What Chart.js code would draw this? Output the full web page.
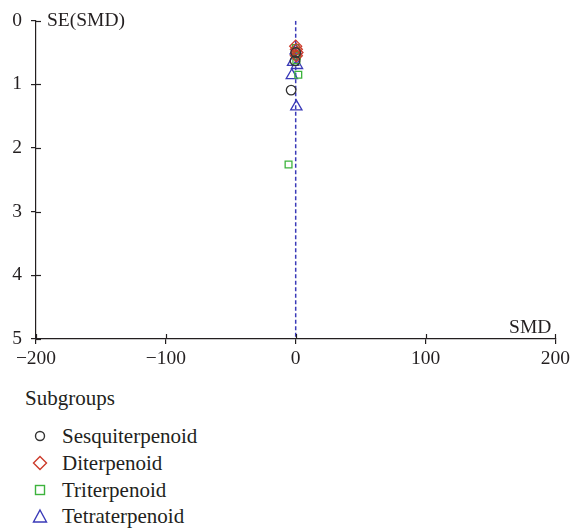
<!DOCTYPE html>
<html>
<head>
<meta charset="utf-8">
<script src="https://cdn.jsdelivr.net/npm/chart.js@4.4.0/dist/chart.umd.min.js"></script>
<style>
  html, body { margin: 0; padding: 0; background: #fff; }
  #wrap { position: absolute; left: 0; top: 0; width: 573px; height: 380px; }
  #legend { position: absolute; left: 0; top: 0; width: 573px; font-family: "Liberation Serif", "DejaVu Serif", serif; font-size: 21px; color: #231f20; }
  .item { position: absolute; left: 0; height: 26px; line-height: 26px; }
  .item svg { position: absolute; left: 31px; top: 4px; }
  .item span { position: absolute; left: 62px; white-space: nowrap; }
</style>
</head>
<body>
<div id="wrap"><canvas id="c" width="573" height="380"></canvas></div>
<div id="legend"></div>
<script>
// ---- data ----
const categories = ['Sesquiterpenoid', 'Diterpenoid', 'Triterpenoid', 'Tetraterpenoid'];
const xTickValues = [-200, -100, 0, 100, 200];
const yTickValues = [0, 1, 2, 3, 4, 5];
const sesquiSMD = [0, -0.5, -3.5];
const sesquiSE  = [0.50, 0.63, 1.09];
const diterSMD  = [0, 0.5, 1, 0.5];
const diterSE   = [0.40, 0.45, 0.50, 0.55];
const triterSMD = [0, 0.5, 1, 0.5, 2, -5.5];
const triterSE  = [0.43, 0.48, 0.55, 0.62, 0.85, 2.26];
const tetraSMD  = [0, -2, 1, -3, 0.5];
const tetraSE   = [0.47, 0.65, 0.70, 0.86, 1.35];
const refLineSMD = [0, 0];
const refLineSE  = [0, 5];

const colors = ['#333333', '#cc3a2a', '#3db33d', '#3a3ab8'];
const styles = ['circle', 'rectRot', 'rect', 'triangle'];
const radii  = [4.8, 6, 4.8, 6.5];

function pts(xs, ys) { return xs.map((x, i) => ({ x: x, y: ys[i] })); }
const seriesX = [sesquiSMD, diterSMD, triterSMD, tetraSMD];
const seriesY = [sesquiSE, diterSE, triterSE, tetraSE];

const FONT = '"Liberation Serif", "DejaVu Serif", serif';
const TEXT = '#231f20';
const datasets = [{
  type: 'line',
  label: 'ref',
  data: pts(refLineSMD, refLineSE),
  borderColor: '#3a3ab8',
  borderWidth: 1.5,
  borderDash: [4, 2.5],
  pointRadius: 0,
  fill: false,
  order: 10
}];
categories.forEach((name, i) => {
  datasets.push({
    type: 'scatter',
    label: name,
    data: pts(seriesX[i], seriesY[i]),
    pointStyle: styles[i],
    pointRadius: radii[i],
    pointBorderColor: colors[i],
    pointBackgroundColor: 'rgba(0,0,0,0)',
    borderColor: colors[i],
    backgroundColor: 'rgba(0,0,0,0)',
    pointBorderWidth: 1.3,
    order: 1
  });
});

const extras = {
  id: 'extras',
  afterDraw(chart) {
    const ctx = chart.ctx;
    const xs = chart.scales.x, ys = chart.scales.y;
    ctx.save();
    ctx.strokeStyle = TEXT;
    ctx.lineWidth = 1.2;
    xTickValues.forEach(v => {
      const px = Math.round(xs.getPixelForValue(v)) + 0.5;
      ctx.beginPath(); ctx.moveTo(px, ys.bottom); ctx.lineTo(px, ys.bottom - 5); ctx.stroke();
    });
    yTickValues.forEach(v => {
      const py = Math.round(ys.getPixelForValue(v)) + 0.5;
      ctx.beginPath(); ctx.moveTo(xs.left, py); ctx.lineTo(xs.left + 5, py); ctx.stroke();
    });
    ctx.fillStyle = TEXT;
    ctx.font = '19.5px ' + FONT;
    ctx.textBaseline = 'middle';
    ctx.textAlign = 'left';
    ctx.fillText('SE(SMD)', xs.left + 11, ys.top);
    ctx.textAlign = 'right';
    ctx.textBaseline = 'alphabetic';
    ctx.fillText('SMD', xs.right - 4, ys.bottom - 6);
    ctx.restore();
  }
};

new Chart(document.getElementById('c'), {
  data: { datasets: datasets },
  options: {
    responsive: false,
    animation: false,
    layout: { padding: { left: 0, right: 17, top: 18, bottom: 0 } },
    plugins: { legend: { display: false }, tooltip: { enabled: false } },
    scales: {
      x: {
        type: 'linear', min: -200, max: 200,
        afterBuildTicks(s) { s.ticks = xTickValues.map(v => ({ value: v })); },
        afterFit(s) { s.height = 41; },
        ticks: {
          color: TEXT, font: { family: FONT, size: 19.5 }, padding: 3,
          callback: v => String(v).replace('-', '\u2212')
        },
        grid: { drawOnChartArea: false, drawTicks: true, tickLength: 5, color: TEXT, lineWidth: 1.2 },
        border: { display: true, color: TEXT, width: 1.2 }
      },
      y: {
        type: 'linear', min: 0, max: 5, reverse: true,
        afterBuildTicks(s) { s.ticks = yTickValues.map(v => ({ value: v })); },
        afterFit(s) { s.width = 36; },
        ticks: { color: TEXT, font: { family: FONT, size: 19.5 }, padding: 9 },
        grid: { drawOnChartArea: false, drawTicks: true, tickLength: 5, color: TEXT, lineWidth: 1.2 },
        border: { display: true, color: TEXT, width: 1.2 }
      }
    }
  },
  plugins: [extras]
});

// ---- HTML legend ----
const box = document.getElementById('legend');
const markerSvg = [
  c => `<svg width="18" height="18"><circle cx="9" cy="9" r="4.5" fill="none" stroke="${c}" stroke-width="1.4"/></svg>`,
  c => `<svg width="18" height="18"><polygon points="9,2.5 15.5,9 9,15.5 2.5,9" fill="none" stroke="${c}" stroke-width="1.4"/></svg>`,
  c => `<svg width="18" height="18"><rect x="4.5" y="4.5" width="9" height="9" fill="none" stroke="${c}" stroke-width="1.4"/></svg>`,
  c => `<svg width="18" height="18"><polygon points="9,3 15.5,15 2.5,15" fill="none" stroke="${c}" stroke-width="1.4"/></svg>`
];
let html = '<div style="position:absolute;left:25px;top:385px;line-height:26px;">Subgroups</div>';
const rowY = [436, 463, 490, 516];
categories.forEach((name, i) => {
  html += `<div class="item" style="top:${rowY[i] - 13}px">${markerSvg[i](colors[i])}<span>${name}</span></div>`;
});
box.innerHTML = html;
</script>
</body>
</html>
